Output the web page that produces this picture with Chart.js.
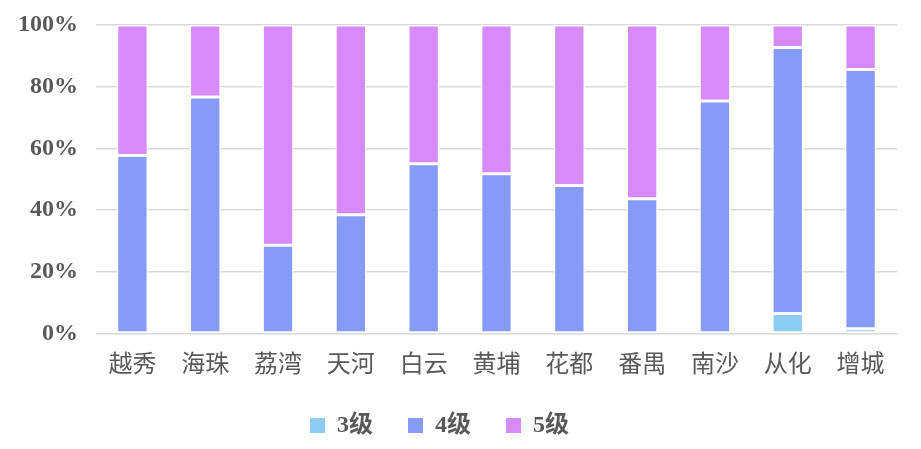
<!DOCTYPE html>
<html>
<head>
<meta charset="utf-8">
<script src="https://cdn.jsdelivr.net/npm/chart.js@4/dist/chart.umd.min.js"></script>
<style>
html,body{margin:0;padding:0;background:#fff;}
#wrap{width:921px;height:449px;}
</style>
</head>
<body>
<div id="wrap"><canvas id="c" width="921" height="449"></canvas></div>
<script>
const categories = ['越秀','海珠','荔湾','天河','白云','黄埔','花都','番禺','南沙','从化','增城'];
const level3 = [0, 0, 0, 0, 0, 0, 0, 0, 0, 6.5, 1.5];
const level4 = [57.7, 76.7, 28.6, 38.5, 55.0, 51.8, 48.0, 43.7, 75.4, 86.2, 84.1];
const level5 = [42.3, 23.3, 71.4, 61.5, 45.0, 48.2, 52.0, 56.3, 24.6, 7.3, 14.4];
const seriesNames = ['3级','4级','5级'];
const yTicks = [0, 20, 40, 60, 80, 100];

const textColor = '#595959';
const gridColor = '#d9d9d9';

const legendFix = {
  id: 'legendFix',
  beforeInit(chart) {
    const lg = chart.legend;
    if (lg) {
      const orig = lg.fit;
      lg.fit = function() { orig.call(this); this.height = 70.5; };
    }
  },
  afterLayout(chart) {
    const lg = chart.legend;
    if (lg) { lg.right -= 18; }
  }
};

function ds(label, data, color) {
  return {
    label, data,
    backgroundColor: color,
    borderColor: '#ffffff',
    borderWidth: 1.5,
    borderSkipped: false,
    categoryPercentage: 1.0,
    barPercentage: 0.43
  };
}

new Chart(document.getElementById('c'), {
  type: 'bar',
  data: {
    labels: categories,
    datasets: [
      ds(seriesNames[0], level3, '#8DCDF4'),
      ds(seriesNames[1], level4, '#869BF7'),
      ds(seriesNames[2], level5, '#D78AF8')
    ]
  },
  plugins: [legendFix],
  options: {
    responsive: false,
    animation: false,
    layout: { padding: { top: 25, right: 24, bottom: 0, left: 0 } },
    plugins: {
      tooltip: { enabled: false },
      legend: {
        position: 'bottom',
        labels: {
          boxWidth: 15,
          boxHeight: 15,
          padding: 35,
          color: textColor,
          font: { family: '"Liberation Serif", "Noto Sans CJK SC", serif', size: 24, weight: 'bold' },
          generateLabels(chart) {
            const items = Chart.defaults.plugins.legend.labels.generateLabels(chart);
            items.forEach(it => { it.strokeStyle = it.fillStyle; it.lineWidth = 0; });
            return items;
          }
        }
      }
    },
    scales: {
      x: {
        stacked: true,
        grid: { display: false, drawTicks: false },
        border: { display: false },
        ticks: {
          padding: 18,
          color: textColor,
          font: { family: '"Liberation Serif", "Noto Sans CJK SC", serif', size: 24 }
        },
        afterFit(scale) { scale.height = 45; scale.paddingLeft = 0; scale.paddingRight = 0; }
      },
      y: {
        stacked: true,
        min: 0, max: 100,
        afterBuildTicks(scale) { scale.ticks = yTicks.map(v => ({ value: v })); },
        grid: { color: gridColor, lineWidth: 1.5, drawTicks: false },
        border: { display: false },
        ticks: {
          padding: 18,
          color: textColor,
          font: { family: '"Liberation Serif", serif', size: 24, weight: 'bold' },
          callback: v => v + '%'
        },
        afterFit(scale) { scale.width = 96; scale.paddingTop = 0; scale.paddingBottom = 0; }
      }
    }
  }
});
</script>
</body>
</html>
